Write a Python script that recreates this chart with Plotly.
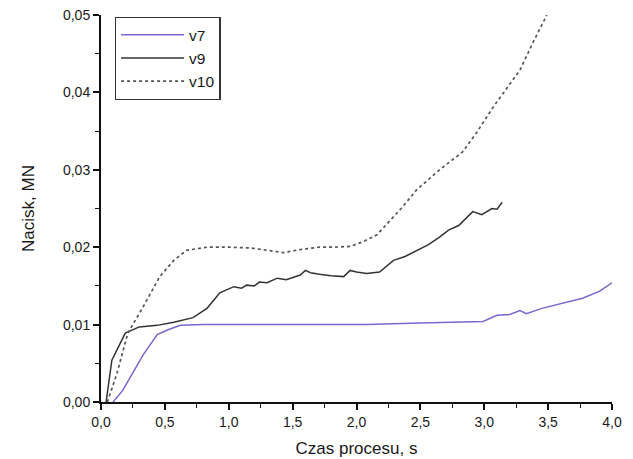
import plotly.graph_objects as go

v7_x = [0.095, 0.17, 0.25, 0.33, 0.44, 0.52, 0.62, 0.8, 1.0, 1.5, 2.08, 2.5, 2.8, 2.99, 3.1, 3.2, 3.28, 3.33, 3.45, 3.6, 3.77, 3.9, 4.0]
v7_y = [0.0, 0.0015, 0.0038, 0.0061, 0.0087, 0.0093, 0.0099, 0.0100, 0.0100, 0.0100, 0.0100, 0.0102, 0.0103, 0.0104, 0.0112, 0.0113, 0.0118, 0.0114, 0.0121, 0.0127, 0.0134, 0.0143, 0.0154]

v9_x = [0.04, 0.085, 0.19, 0.3, 0.44, 0.57, 0.72, 0.83, 0.93, 1.04, 1.1, 1.14, 1.2, 1.24, 1.3, 1.38, 1.45, 1.56, 1.6, 1.64, 1.71, 1.8, 1.9, 1.95, 2.0, 2.08, 2.18, 2.29, 2.38, 2.47, 2.56, 2.65, 2.72, 2.8, 2.85, 2.91, 2.98, 3.06, 3.1, 3.14]
v9_y = [0.0, 0.0054, 0.0089, 0.0097, 0.0099, 0.0103, 0.0109, 0.0121, 0.0141, 0.0149, 0.0147, 0.0151, 0.0150, 0.0155, 0.0154, 0.0160, 0.0158, 0.0164, 0.0170, 0.0167, 0.0165, 0.0163, 0.0162, 0.0170, 0.0168, 0.0166, 0.0168, 0.0183, 0.0188, 0.0196, 0.0203, 0.0213, 0.0222, 0.0228, 0.0236, 0.0246, 0.0242, 0.0250, 0.0249, 0.0258]

v10_x = [0.05, 0.125, 0.21, 0.33, 0.46, 0.57, 0.67, 0.83, 1.0, 1.17, 1.3, 1.43, 1.56, 1.71, 1.82, 1.95, 2.05, 2.16, 2.21, 2.35, 2.47, 2.65, 2.83, 2.94, 3.07, 3.18, 3.28, 3.38, 3.49]
v10_y = [0.0, 0.0037, 0.0089, 0.0123, 0.0162, 0.0183, 0.0196, 0.0200, 0.0200, 0.0199, 0.0196, 0.0193, 0.0197, 0.0200, 0.0200, 0.0201, 0.0207, 0.0216, 0.0225, 0.0250, 0.0274, 0.0300, 0.0323, 0.0348, 0.0381, 0.0407, 0.0429, 0.0464, 0.0500]

fig = go.Figure()
fig.add_trace(go.Scatter(x=v7_x, y=v7_y, mode="lines", name="v7",
                         line=dict(color="#7868d0", width=1.5)))
fig.add_trace(go.Scatter(x=v9_x, y=v9_y, mode="lines", name="v9",
                         line=dict(color="#333333", width=1.5)))
fig.add_trace(go.Scatter(x=v10_x, y=v10_y, mode="lines", name="v10",
                         line=dict(color="#555555", width=1.7, dash="dot")))

font = "Liberation Sans, Arial, sans-serif"
fig.update_layout(
    width=625, height=451,
    margin=dict(l=93, r=21, t=7, b=57),
    paper_bgcolor="white", plot_bgcolor="white",
    separators=", ",
    font=dict(family=font, size=14, color="#1a1a1a"),
    showlegend=True,
    legend=dict(x=0.027, y=0.995, xanchor="left", yanchor="top",
                bordercolor="#333", borderwidth=1.3, bgcolor="white",
                font=dict(size=15.5, family=font, color="#1a1a1a"),
                tracegroupgap=0, itemwidth=63),
    xaxis=dict(range=[0, 4.0], dtick=0.5, tick0=0, tickformat=".1f", automargin=False,
               ticklabeloverflow="allow",
               showgrid=False, zeroline=False, showline=True, linecolor="#111", linewidth=2,
               ticks="outside", ticklen=6, tickwidth=1.5, tickcolor="#111",
               minor=dict(dtick=0.25, ticks="outside", ticklen=4, tickwidth=1.2, tickcolor="#111"),
               title=dict(text="Czas procesu, s", font=dict(size=17), standoff=13),
               tickfont=dict(size=14)),
    yaxis=dict(range=[0, 0.05], dtick=0.01, tick0=0, tickformat=".2f", automargin=False,
               ticklabeloverflow="allow",
               showgrid=False, zeroline=False, showline=True, linecolor="#111", linewidth=2,
               ticks="outside", ticklen=6, tickwidth=1.5, tickcolor="#111",
               minor=dict(dtick=0.005, ticks="outside", ticklen=4, tickwidth=1.2, tickcolor="#111"),
               title=dict(text="Nacisk, MN", font=dict(size=17), standoff=24),
               tickfont=dict(size=14)),
)

fig.write_html("out.html")
